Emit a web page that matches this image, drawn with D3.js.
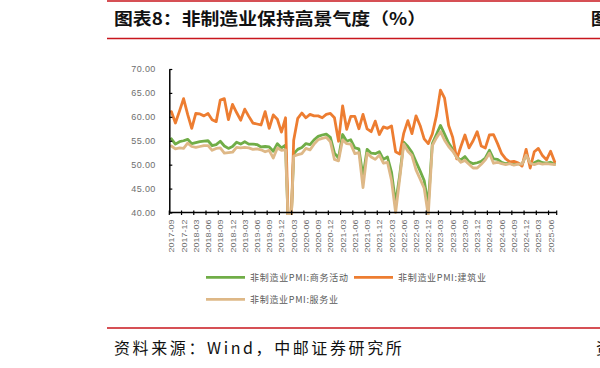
<!DOCTYPE html>
<html>
<head>
<meta charset="utf-8">
<script src="https://cdn.jsdelivr.net/npm/d3@7"></script>
<style>
  html, body { margin: 0; padding: 0; background: #fff; }
  svg { display: block; }
</style>
</head>
<body>
<svg id="chart" width="600" height="368"></svg>
<script>
// ---------------- DATA ----------------
const categories = [
  "2017-09","2017-10","2017-11","2017-12",
  "2018-01","2018-02","2018-03","2018-04","2018-05","2018-06","2018-07","2018-08","2018-09","2018-10","2018-11","2018-12",
  "2019-01","2019-02","2019-03","2019-04","2019-05","2019-06","2019-07","2019-08","2019-09","2019-10","2019-11","2019-12",
  "2020-01","2020-02","2020-03","2020-04","2020-05","2020-06","2020-07","2020-08","2020-09","2020-10","2020-11","2020-12",
  "2021-01","2021-02","2021-03","2021-04","2021-05","2021-06","2021-07","2021-08","2021-09","2021-10","2021-11","2021-12",
  "2022-01","2022-02","2022-03","2022-04","2022-05","2022-06","2022-07","2022-08","2022-09","2022-10","2022-11","2022-12",
  "2023-01","2023-02","2023-03","2023-04","2023-05","2023-06","2023-07","2023-08","2023-09","2023-10","2023-11","2023-12",
  "2024-01","2024-02","2024-03","2024-04","2024-05","2024-06","2024-07","2024-08","2024-09","2024-10","2024-11","2024-12",
  "2025-01","2025-02","2025-03","2025-04","2025-05","2025-06","2025-07"
];

const businessActivity = [
  55.4, 54.3, 54.8, 55.0,
  55.3, 54.4, 54.6, 54.8, 54.9, 55.0, 54.0, 54.2, 54.9, 53.9, 53.4, 53.8,
  54.7, 54.3, 54.8, 54.3, 54.3, 54.2, 53.7, 53.8, 53.7, 52.8, 54.4, 53.5,
  54.1, 29.6, 52.3, 53.2, 53.6, 54.4, 54.2, 55.2, 55.9, 56.2, 56.4, 55.7,
  52.4, 51.4, 56.3, 54.9, 55.2, 53.5, 53.3, 47.5, 53.2, 52.4, 52.3, 52.7,
  51.1, 51.6, 48.4, 41.9, 47.8, 54.7, 53.8, 52.6, 50.6, 48.7, 46.7, 41.6,
  54.4, 56.3, 58.2, 56.4, 54.5, 53.2, 51.5, 51.0, 51.7, 50.6, 50.2, 50.4,
  50.7, 51.4, 53.0, 51.2, 51.1, 50.5, 50.2, 50.3, 50.0, 50.2, 50.0, 52.2,
  50.2, 50.4, 50.8, 50.4, 50.3, 50.5, 50.1
];

const construction = [
  61.1, 58.7, 61.2, 63.8,
  60.5, 57.6, 60.7, 60.6, 60.2, 60.7, 59.4, 59.0, 63.5, 63.8, 59.4, 62.6,
  60.9, 59.3, 61.6, 60.1, 58.7, 58.5, 58.3, 61.1, 57.6, 60.4, 59.5, 56.8,
  59.8, 26.6, 55.1, 59.7, 60.8, 59.8, 60.5, 60.2, 60.2, 59.8, 60.5, 60.7,
  59.8, 54.9, 62.3, 57.4, 60.1, 60.1, 57.5, 60.5, 57.5, 56.9, 59.1, 56.3,
  57.9, 57.6, 58.1, 52.7, 52.2, 56.6, 59.2, 56.5, 60.2, 58.2, 55.4, 54.4,
  56.4, 60.2, 65.6, 63.9, 58.2, 55.7, 51.2, 53.8, 56.2, 53.5, 55.0, 56.9,
  53.9, 53.5, 56.2, 56.3, 54.4, 52.3, 51.2, 50.6, 50.7, 50.4, 49.7, 53.2,
  49.3, 52.7, 53.4, 51.9, 51.0, 52.8, 50.6
];

const services = [
  53.9, 53.3, 53.5, 53.4,
  54.5, 53.8, 53.6, 53.8, 54.0, 54.0, 53.0, 53.4, 53.5, 52.4, 52.5, 52.6,
  53.6, 53.5, 53.6, 53.5, 53.2, 53.3, 53.1, 52.7, 53.0, 51.4, 53.5, 53.0,
  53.1, 30.1, 51.8, 52.1, 52.3, 53.4, 53.1, 54.3, 55.2, 55.5, 55.7, 54.8,
  51.1, 50.8, 55.2, 54.4, 54.3, 52.3, 52.5, 45.2, 52.4, 51.6, 51.1, 52.0,
  50.3, 50.5, 46.7, 40.0, 47.1, 54.3, 52.8, 51.9, 48.9, 47.0, 45.1, 39.4,
  54.0, 55.6, 56.9, 55.1, 53.8, 52.8, 51.5, 50.5, 50.9, 50.1, 49.3, 49.3,
  50.1, 51.0, 52.4, 50.3, 50.5, 50.2, 50.0, 50.2, 49.9, 50.1, 50.1, 52.0,
  50.3, 50.0, 50.3, 50.1, 50.2, 50.1, 50.0
];

const seriesNames = ["非制造业PMI:商务活动", "非制造业PMI:建筑业", "非制造业PMI:服务业"];
const yTicks = [40, 45, 50, 55, 60, 65, 70];
const xTickLabels = categories.filter((d, i) => i % 3 === 0);
const titleText = "图表8：非制造业保持高景气度（%）";
const sourceText = "资料来源：Wind，中邮证券研究所";

// ---------------- DRAW ----------------
const svg = d3.select("#chart");
const red = "#c8161d";
const colors = ["#70ad47", "#ed7d31", "#deb887"];
const labelColor = "#6e6e6e";

// header / footer
svg.append("line").attr("x1", 107).attr("x2", 600).attr("y1", 1).attr("y2", 1)
  .attr("stroke", red).attr("stroke-width", 1.5);
svg.append("text").attr("x", 114).attr("y", 25)
  .attr("font-family", "'Noto Sans CJK SC', sans-serif").attr("font-weight", "bold")
  .attr("font-size", 16.5).attr("fill", "#111")
  .attr("textLength", 312).attr("lengthAdjust", "spacingAndGlyphs")
  .text(titleText);
svg.append("text").attr("x", 591).attr("y", 25)
  .attr("font-family", "'Noto Sans CJK SC', sans-serif").attr("font-weight", "bold")
  .attr("font-size", 16.5).attr("fill", "#111").text("图");
svg.append("line").attr("x1", 107).attr("x2", 600).attr("y1", 38.5).attr("y2", 38.5)
  .attr("stroke", red).attr("stroke-width", 1.5);

svg.append("line").attr("x1", 107).attr("x2", 600).attr("y1", 328).attr("y2", 328)
  .attr("stroke", red).attr("stroke-width", 1.5);
svg.append("text").attr("x", 114).attr("y", 354)
  .attr("font-family", "'Noto Sans CJK SC', sans-serif")
  .attr("font-size", 16).attr("fill", "#111")
  .attr("letter-spacing", 2.6)
  .text(sourceText);
svg.append("text").attr("x", 596).attr("y", 354)
  .attr("font-family", "'Noto Sans CJK SC', sans-serif")
  .attr("font-size", 16).attr("fill", "#111").text("资");

// scales
const x = d3.scaleBand().domain(categories).range([169.3, 556.7]).paddingInner(0).paddingOuter(0);
const y = d3.scaleLinear().domain([40, 70]).range([212.5, 69]);
const cx = d => x(d) + x.bandwidth() / 2;

// clip
svg.append("defs").append("clipPath").attr("id", "plotclip")
  .append("rect").attr("x", 160).attr("y", 55).attr("width", 410).attr("height", 160);

// series lines
const allSeries = [businessActivity, construction, services];
const line = d3.line().x((d, i) => cx(categories[i])).y(d => y(d)).curve(d3.curveLinear);
const plot = svg.append("g").attr("clip-path", "url(#plotclip)");
allSeries.forEach((s, k) => {
  plot.append("path").datum(s).attr("d", line)
    .attr("fill", "none").attr("stroke", colors[k]).attr("stroke-width", 2.8)
    .attr("stroke-linejoin", "round").attr("stroke-linecap", "round");
});

// y axis
const yAxis = d3.axisLeft(y).tickValues(yTicks).tickFormat(d3.format(".2f"))
  .tickSizeInner(-3).tickSizeOuter(0).tickPadding(14);
const gy = svg.append("g").attr("transform", "translate(169.3,0)").call(yAxis);
gy.select(".domain").attr("stroke", "#000").attr("stroke-width", 1.5);
gy.selectAll(".tick line").attr("stroke", "#000").attr("stroke-width", 1.2);
gy.selectAll(".tick text").attr("fill", labelColor).attr("font-size", 9)
  .attr("font-family", "'Liberation Sans', sans-serif")
  .attr("textLength", 24).attr("lengthAdjust", "spacing");

// x axis
svg.append("line").attr("x1", 169.3).attr("x2", 556.7).attr("y1", 212.5).attr("y2", 212.5)
  .attr("stroke", "#000").attr("stroke-width", 1.5);
const tickCats = categories.filter((d, i) => i % 3 === 0);
svg.append("g").selectAll("line").data(tickCats.concat(["__end"])).join("line")
  .attr("x1", d => d === "__end" ? 556.7 : x(d))
  .attr("x2", d => d === "__end" ? 556.7 : x(d))
  .attr("y1", 210.5).attr("y2", 215)
  .attr("stroke", "#000").attr("stroke-width", 1.2);
svg.append("g").selectAll("text").data(xTickLabels).join("text")
  .attr("transform", d => `translate(${cx(d) + 3},219.5) rotate(-90)`)
  .attr("text-anchor", "end")
  .attr("font-size", 8).attr("fill", labelColor)
  .attr("font-family", "'Liberation Sans', sans-serif")
  .attr("textLength", 33).attr("lengthAdjust", "spacingAndGlyphs")
  .text(d => d);

// legend
const legendItems = [
  { name: seriesNames[0], color: colors[0], lx: 206, ly: 277.3, tl: 98 },
  { name: seriesNames[1], color: colors[1], lx: 354, ly: 277.3, tl: 88 },
  { name: seriesNames[2], color: colors[2], lx: 206, ly: 299.3, tl: 88 }
];
const lg = svg.append("g").selectAll("g").data(legendItems).join("g");
lg.append("line").attr("x1", d => d.lx).attr("x2", d => d.lx + 39)
  .attr("y1", d => d.ly).attr("y2", d => d.ly)
  .attr("stroke", d => d.color).attr("stroke-width", 2.8);
lg.append("text").attr("x", d => d.lx + 44).attr("y", d => d.ly + 3.2)
  .attr("font-size", 9).attr("fill", "#595959")
  .attr("font-family", "'Noto Sans CJK SC', sans-serif")
  .attr("textLength", d => d.tl).attr("lengthAdjust", "spacing")
  .text(d => d.name);
</script>
</body>
</html>
